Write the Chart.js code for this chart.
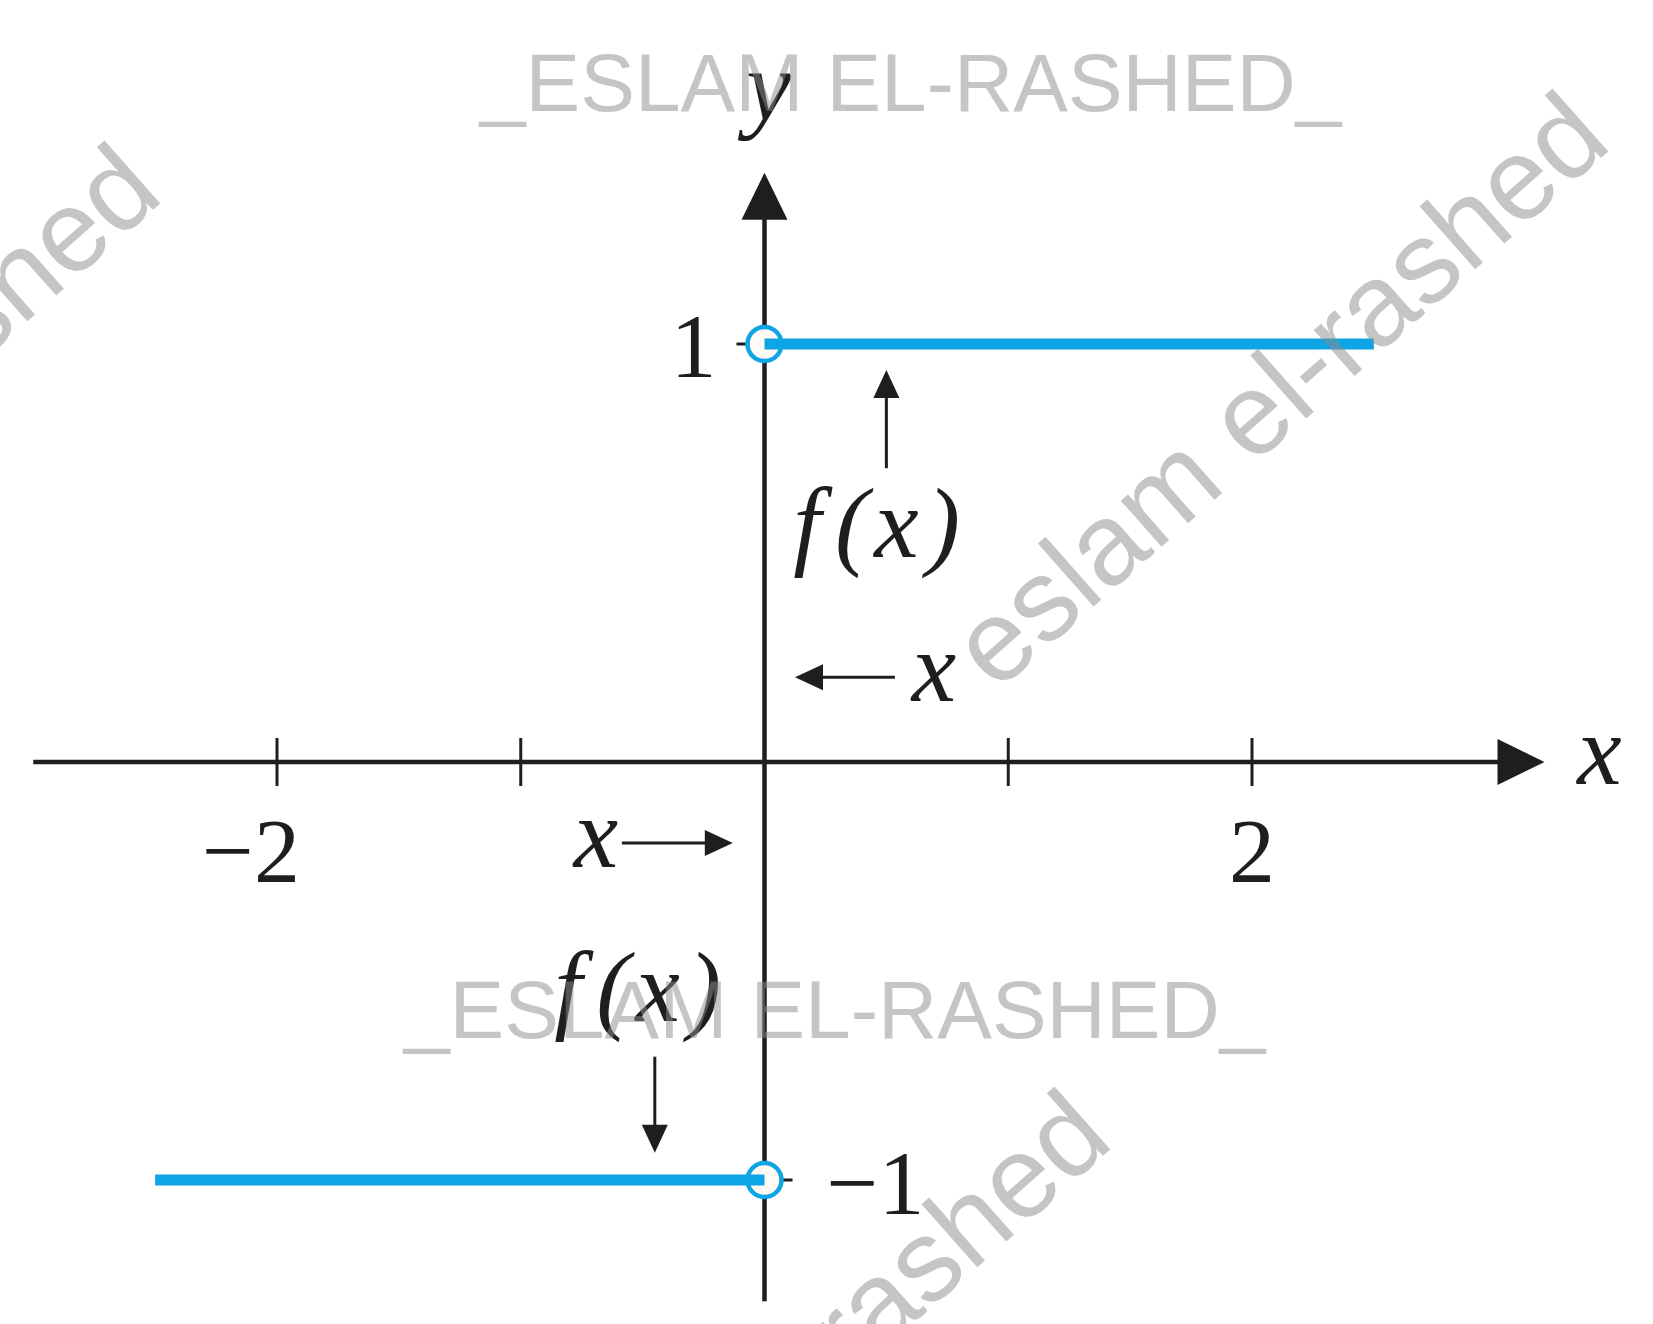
<!DOCTYPE html>
<html>
<head>
<meta charset="utf-8">
<script src="https://cdn.jsdelivr.net/npm/chart.js@4"></script>
<style>
  html, body { margin: 0; background: #fff; }
  #wrap { width: 1653px; height: 1324px; position: relative; }
</style>
</head>
<body>
<div id="wrap"><canvas id="chart"></canvas></div>
<script>
// piecewise function: f(x) = 1 for x > 0, -1 for x < 0
const rightX = [0, 2.5];
const rightY = [1, 1];
const leftX = [-2.5, 0];
const leftY = [-1, -1];
const holeX = [0, 0];
const holeY = [1, -1];

const xTicks = [-2, -1, 1, 2];
const xTickLabels = ["\u22122", "", "", "2"];
const yTicks = [1, -1];
const yTickLabels = ["1", "\u22121"];

const xAxisRange = [-3.0, 3.2];
const yAxisRange = [-1.29, 1.41];

const blue = "#0ea5e4";
const ink = "#1e1e1e";
const mathFont = "italic 100px 'Liberation Serif'";
const digitFont = "92px 'Liberation Serif'";

function arrowHead(ctx, x, y, dir, len, half) {
  ctx.beginPath();
  if (dir === "right") { ctx.moveTo(x, y); ctx.lineTo(x - len, y - half); ctx.lineTo(x - len, y + half); }
  if (dir === "left") { ctx.moveTo(x, y); ctx.lineTo(x + len, y - half); ctx.lineTo(x + len, y + half); }
  if (dir === "up") { ctx.moveTo(x, y); ctx.lineTo(x - half, y + len); ctx.lineTo(x + half, y + len); }
  if (dir === "down") { ctx.moveTo(x, y); ctx.lineTo(x - half, y - len); ctx.lineTo(x + half, y - len); }
  ctx.closePath();
  ctx.fill();
}

function seg(ctx, x1, y1, x2, y2) {
  ctx.beginPath();
  ctx.moveTo(x1, y1);
  ctx.lineTo(x2, y2);
  ctx.stroke();
}

function fx(ctx, cx, base) {
  // f(x) drawn piece by piece to get the wider math spacing
  const parts = ["f", "(", "x", ")"];
  const gap = [14, 6, 8, 0];
  let w = 0;
  parts.forEach((p, i) => { w += ctx.measureText(p).width + gap[i]; });
  let x = cx - w / 2;
  ctx.textAlign = "left";
  parts.forEach((p, i) => {
    ctx.fillText(p, x, base);
    x += ctx.measureText(p).width + gap[i];
  });
}

const axesPlugin = {
  id: "axes",
  beforeDatasetsDraw(chart) {
    const ctx = chart.ctx;
    const px = v => chart.scales.x.getPixelForValue(v);
    const py = v => chart.scales.y.getPixelForValue(v);
    ctx.save();
    ctx.strokeStyle = ink;
    ctx.fillStyle = ink;
    ctx.lineWidth = 4.5;

    const xa = px(xAxisRange[0]), xb = px(xAxisRange[1]), y0 = py(0);
    seg(ctx, xa, y0, xb - 30, y0);
    arrowHead(ctx, xb, y0, "right", 47, 23);

    const x0 = px(0), yb = py(yAxisRange[0]), yt = py(yAxisRange[1]);
    seg(ctx, x0, yb, x0, yt + 30);
    arrowHead(ctx, x0, yt, "up", 47, 23);

    ctx.lineWidth = 3;
    xTicks.forEach(t => seg(ctx, px(t), y0 - 24, px(t), y0 + 24));
    yTicks.forEach(t => seg(ctx, x0 - 28, py(t), x0 + 28, py(t)));
    ctx.restore();
  },
  afterDatasetsDraw(chart) {
    const ctx = chart.ctx;
    const px = v => chart.scales.x.getPixelForValue(v);
    const py = v => chart.scales.y.getPixelForValue(v);
    const x0 = px(0), y0 = py(0);
    ctx.save();
    ctx.fillStyle = ink;
    ctx.strokeStyle = ink;

    // tick labels
    ctx.font = digitFont;
    ctx.textBaseline = "alphabetic";
    xTicks.forEach((t, i) => {
      const lab = xTickLabels[i];
      if (!lab) return;
      const dw = ctx.measureText("2").width;
      ctx.textAlign = "right";
      ctx.fillText(lab, px(t) + dw / 2, y0 + 120);
    });
    ctx.textAlign = "right";
    ctx.fillText(yTickLabels[0], x0 - 48, py(yTicks[0]) + 33);
    ctx.textAlign = "left";
    ctx.fillText(yTickLabels[1], x0 + 62, py(yTicks[1]) + 34);

    // axis names
    ctx.font = mathFont;
    ctx.textAlign = "center";
    ctx.fillText("x", px(xAxisRange[1]) + 55, y0 + 22);
    ctx.fillText("y", x0 + 4, py(yAxisRange[1]) - 53);

    // annotations
    ctx.lineWidth = 3;
    // f(x) above, arrow up to the right branch
    seg(ctx, px(0.5), py(0.703), px(0.5), py(0.9));
    arrowHead(ctx, px(0.5), py(0.938), "up", 28, 13);
    fx(ctx, px(0.46), py(0.49));
    // <- x
    seg(ctx, px(0.535), py(0.203), px(0.2), py(0.203));
    arrowHead(ctx, px(0.125), py(0.203), "left", 28, 13);
    ctx.textAlign = "center";
    ctx.fillText("x", px(0.695), py(0.203) + 24);
    // x ->
    seg(ctx, px(-0.585), py(-0.194), px(-0.2), py(-0.194));
    arrowHead(ctx, px(-0.13), py(-0.194), "right", 28, 13);
    ctx.textAlign = "center";
    ctx.fillText("x", px(-0.692), py(-0.194) + 24);
    // f(x) below, arrow down to the left branch
    seg(ctx, px(-0.45), py(-0.705), px(-0.45), py(-0.87));
    arrowHead(ctx, px(-0.45), py(-0.935), "down", 28, 13);
    fx(ctx, px(-0.52), py(-0.62));
    ctx.restore();
  },
  afterDraw(chart) {
    const ctx = chart.ctx;
    ctx.save();
    ctx.fillStyle = "rgba(140,140,140,0.5)";
    ctx.textBaseline = "alphabetic";
    ctx.textAlign = "left";
    ctx.font = "82px 'Liberation Sans'";
    ctx.fillText("_ESLAM EL-RASHED_", 480, 111);
    ctx.fillText("_ESLAM EL-RASHED_", 404, 1038);

    ctx.font = "116px 'Liberation Sans'";
    [[996, 693], [-452, 745], [498, 1691]].forEach(p => {
      ctx.save();
      ctx.translate(p[0], p[1]);
      ctx.rotate(-41.5 * Math.PI / 180);
      ctx.fillText("eslam el-rashed", 0, 0);
      ctx.restore();
    });
    ctx.restore();
  }
};

const toPts = (xs, ys) => xs.map((x, i) => ({ x: x, y: ys[i] }));

new Chart(document.getElementById("chart"), {
  type: "scatter",
  data: {
    datasets: [
      {
        data: toPts(rightX, rightY),
        showLine: true,
        borderColor: blue,
        borderWidth: 11,
        pointRadius: 0,
        borderCapStyle: "butt"
      },
      {
        data: toPts(leftX, leftY),
        showLine: true,
        borderColor: blue,
        borderWidth: 11,
        pointRadius: 0,
        borderCapStyle: "butt"
      },
      {
        data: toPts(holeX, holeY),
        showLine: false,
        pointRadius: 17,
        pointBorderWidth: 4.5,
        pointBackgroundColor: "#fffaf5",
        pointBorderColor: blue
      }
    ]
  },
  options: {
    responsive: true,
    maintainAspectRatio: false,
    animation: false,
    layout: { padding: 0, autoPadding: false },
    plugins: { legend: { display: false }, tooltip: { enabled: false } },
    scales: {
      x: { type: "linear", display: false, min: -3.1364, max: 3.6451 },
      y: { type: "linear", display: false, min: -1.3445, max: 1.823 }
    }
  },
  plugins: [axesPlugin]
});
</script>
</body>
</html>
